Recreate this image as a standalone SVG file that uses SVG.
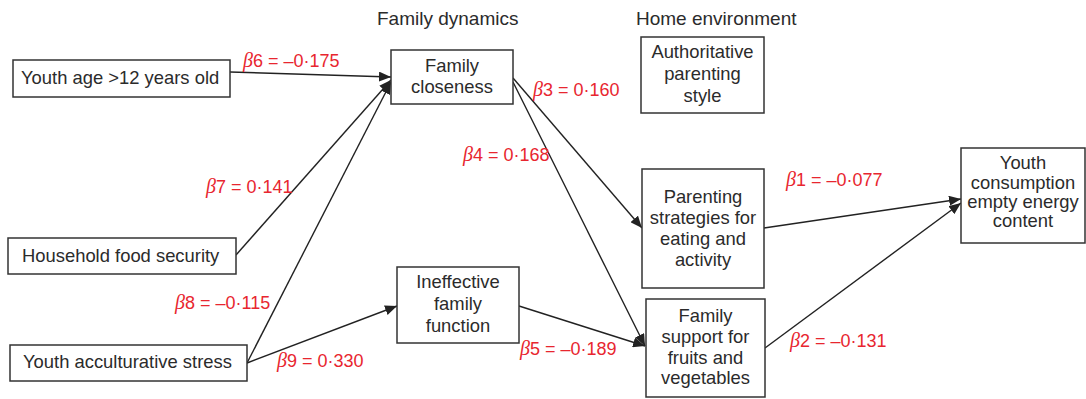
<svg xmlns="http://www.w3.org/2000/svg" width="1086" height="399" viewBox="0 0 1086 399">
<style>
.box{fill:#fff;stroke:#333;stroke-width:1.5}
.t{font-family:"Liberation Sans",Arial,sans-serif;font-size:18.4px;fill:#2b2b2b}
.c{text-anchor:middle}
.h{font-family:"Liberation Sans",Arial,sans-serif;font-size:19px;fill:#2b2b2b}
.lab{font-family:"Liberation Sans",Arial,sans-serif;font-size:18px;fill:#e8262f}
.b{font-family:"Liberation Serif","Times New Roman",serif;font-style:italic;font-size:20px}
.con{stroke:#222;stroke-width:1.4;fill:none;marker-end:url(#ah)}
</style>
<defs>
<marker id="ah" viewBox="0 0 12 10" refX="12" refY="5" markerWidth="12" markerHeight="10" markerUnits="userSpaceOnUse" orient="auto">
<path d="M0,0 L12,5 L0,10 z" fill="#222"/>
</marker>
</defs>
<rect width="1086" height="399" fill="#fff"/>
<text class="h" x="377" y="25">Family dynamics</text>
<text class="h" x="636" y="25">Home environment</text>
<g id="connectors">
<line class="con" x1="230" y1="72" x2="391" y2="77"/>
<line class="con" x1="236" y1="255" x2="391" y2="80"/>
<line class="con" x1="247" y1="363" x2="391" y2="82"/>
<line class="con" x1="247" y1="363" x2="397" y2="306"/>
<line class="con" x1="513" y1="78" x2="642" y2="228"/>
<line class="con" x1="513" y1="82" x2="645" y2="346"/>
<line class="con" x1="519" y1="306" x2="645" y2="346"/>
<line class="con" x1="764" y1="228" x2="961" y2="199"/>
<line class="con" x1="765" y1="348" x2="961" y2="203"/>
</g>
<g id="youth-age">
<rect class="box" x="13" y="60" width="217" height="37"/>
<text class="t" x="21" y="84">Youth age &gt;12 years old</text>
</g>
<g id="household-food">
<rect class="box" x="8" y="238" width="228" height="36"/>
<text class="t" x="22" y="262">Household food security</text>
</g>
<g id="acculturative">
<rect class="box" x="10" y="345" width="237" height="36"/>
<text class="t" x="23" y="368">Youth acculturative stress</text>
</g>
<g id="family-closeness">
<rect class="box" x="391" y="50" width="122" height="54"/>
<text class="t c" x="452" y="72">Family</text>
<text class="t c" x="452" y="93">closeness</text>
</g>
<g id="ineffective">
<rect class="box" x="397" y="267" width="122" height="76"/>
<text class="t c" x="458" y="288">Ineffective</text>
<text class="t c" x="458" y="310">family</text>
<text class="t c" x="458" y="332">function</text>
</g>
<g id="authoritative">
<rect class="box" x="641" y="37" width="123" height="76"/>
<text class="t c" x="702.5" y="58">Authoritative</text>
<text class="t c" x="702.5" y="80">parenting</text>
<text class="t c" x="702.5" y="102">style</text>
</g>
<g id="parenting">
<rect class="box" x="642" y="169" width="122" height="119"/>
<text class="t c" x="703" y="203">Parenting</text>
<text class="t c" x="703" y="224">strategies for</text>
<text class="t c" x="703" y="245">eating and</text>
<text class="t c" x="703" y="266">activity</text>
</g>
<g id="family-support">
<rect class="box" x="646" y="299" width="119" height="98"/>
<text class="t c" x="705.5" y="322">Family</text>
<text class="t c" x="705.5" y="343">support for</text>
<text class="t c" x="705.5" y="364">fruits and</text>
<text class="t c" x="705.5" y="384">vegetables</text>
</g>
<g id="youth-consumption">
<rect class="box" x="961" y="148" width="124" height="95"/>
<text class="t c" x="1023" y="169">Youth</text>
<text class="t c" x="1023" y="189">consumption</text>
<text class="t c" x="1023" y="208">empty energy</text>
<text class="t c" x="1023" y="227">content</text>
</g>
<g id="labels">
<text class="lab" x="243" y="67"><tspan class="b">β</tspan>6 = –0·175</text>
<text class="lab" x="533" y="96"><tspan class="b">β</tspan>3 = 0·160</text>
<text class="lab" x="463" y="161"><tspan class="b">β</tspan>4 = 0·168</text>
<text class="lab" x="206" y="193"><tspan class="b">β</tspan>7 = 0·141</text>
<text class="lab" x="786" y="186"><tspan class="b">β</tspan>1 = –0·077</text>
<text class="lab" x="175" y="309"><tspan class="b">β</tspan>8 = –0·115</text>
<text class="lab" x="277" y="367"><tspan class="b">β</tspan>9 = 0·330</text>
<text class="lab" x="520" y="355"><tspan class="b">β</tspan>5 = –0·189</text>
<text class="lab" x="790" y="347"><tspan class="b">β</tspan>2 = –0·131</text>
</g>
</svg>
